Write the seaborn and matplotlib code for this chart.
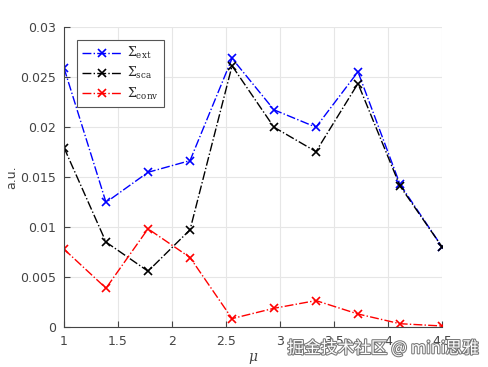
import numpy as np
import pandas as pd
import matplotlib
matplotlib.use('Agg')
import matplotlib.pyplot as plt
import matplotlib.patheffects as pe
import seaborn as sns

# values
mu = [1.0, 1.389, 1.778, 2.167, 2.556, 2.944, 3.333, 3.722, 4.111, 4.5]
sigma_ext = [0.0259, 0.01246, 0.01547, 0.01664, 0.02686, 0.02172, 0.01998, 0.02552, 0.01427, 0.00802]
sigma_sca = [0.01794, 0.00849, 0.00558, 0.00972, 0.02612, 0.01998, 0.01754, 0.02435, 0.0141, 0.00802]
sigma_conv = [0.00778, 0.00388, 0.00982, 0.00695, 0.00084, 0.00187, 0.00264, 0.0013, 0.00033, 0.0001]

labels = [r'$\Sigma_{\rm ext}$', r'$\Sigma_{\rm sca}$', r'$\Sigma_{\rm conv}$']
colors = ['#0000ff', '#000000', '#ff0000']

df = pd.DataFrame({'mu': mu * 3,
                   'value': sigma_ext + sigma_sca + sigma_conv,
                   'series': [labels[0]] * 10 + [labels[1]] * 10 + [labels[2]] * 10})

sns.set_style('whitegrid')
plt.rcParams['font.family'] = ['DejaVu Sans', 'Noto Sans CJK SC']
plt.rcParams['mathtext.fontset'] = 'dejavuserif'

fig = plt.figure(figsize=(4.89, 3.67), dpi=100)
ax = fig.add_axes([64 / 489, 40 / 367, 378 / 489, 300 / 367])

for lab, col in zip(labels, colors):
    d = df[df['series'] == lab]
    sns.lineplot(data=d, x='mu', y='value', ax=ax, color=col, linestyle='-.',
                 linewidth=1.0, marker='x', markersize=6, markeredgewidth=1.2,
                 markeredgecolor=col, label=lab, sort=False)

ax.set_xlim(1, 4.5)
ax.set_ylim(0, 0.03)
ax.set_xticks([1, 1.5, 2, 2.5, 3, 3.5, 4, 4.5])
ax.set_xticklabels(['1', '1.5', '2', '2.5', '3', '3.5', '4', '4.5'])
ax.set_yticks([0, 0.005, 0.01, 0.015, 0.02, 0.025, 0.03])
ax.set_yticklabels(['0', '0.005', '0.01', '0.015', '0.02', '0.025', '0.03'])
ax.tick_params(direction='in', length=4, width=0.8, colors='#444444',
               labelcolor='#444444', labelsize=9, pad=6, left=True, bottom=True)
ax.grid(True, color='#e6e6e6', linewidth=0.8)
for s in ['top', 'right']:
    ax.spines[s].set_visible(False)
for s in ['left', 'bottom']:
    ax.spines[s].set_color('#444444')
    ax.spines[s].set_linewidth(0.8)

ax.set_xlabel(r'$\mu$', fontsize=10, color='#444444', labelpad=2)
ax.set_ylabel('a.u.', fontsize=9, color='#444444', labelpad=1)

leg = ax.legend(loc='upper left', bbox_to_anchor=(0.034, 0.957), borderaxespad=0,
                fontsize=9, frameon=True, fancybox=False, framealpha=1,
                edgecolor='#555555', handlelength=3.2, handletextpad=0.4,
                borderpad=0.4, labelspacing=0.35)
leg.get_frame().set_linewidth(0.8)

fig.text(0.978, 0.05, '掘金技术社区 @ mini思雅', ha='right', va='center',
         fontsize=12, color='white', family=['Noto Sans CJK SC', 'DejaVu Sans'],
         path_effects=[pe.withStroke(linewidth=1.5, foreground='#777777')])

fig.savefig('out.png', dpi=100)
